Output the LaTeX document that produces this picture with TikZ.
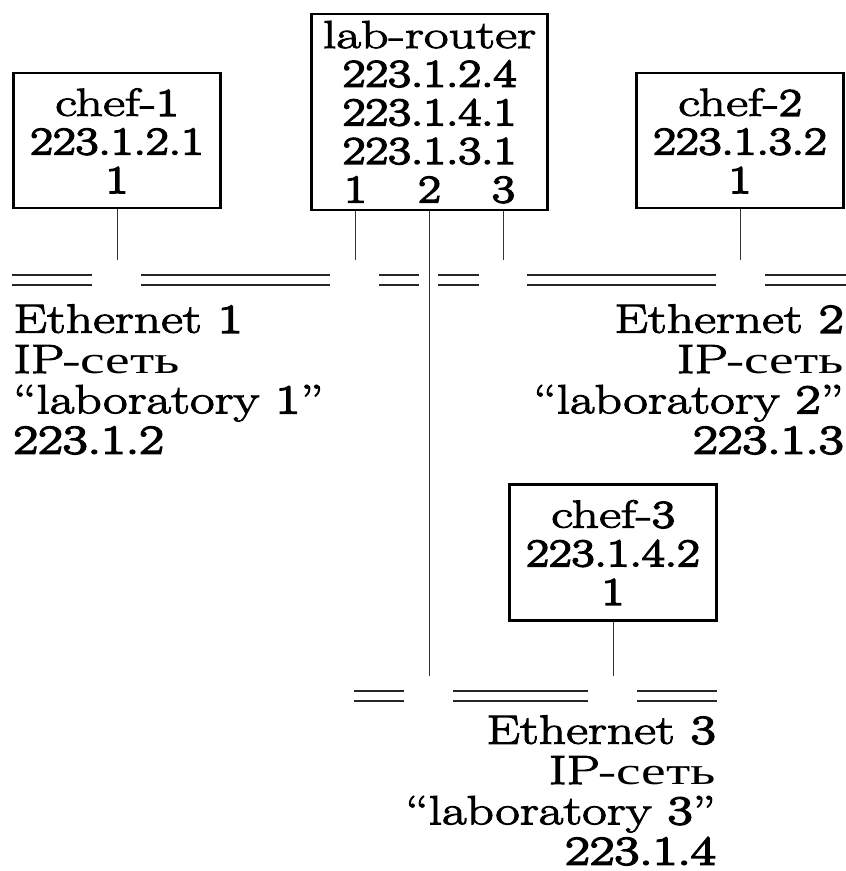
\documentclass[tikz,border=0pt]{standalone}
\usepackage{fontspec}
\setmainfont{Latin Modern Roman}[FakeStretch=1.25]
\newfontfamily\boxf{Latin Modern Roman}[FakeStretch=1.38, FakeBold=2.6]
\newfontfamily\boxd{Latin Modern Roman}[FakeStretch=1.27, FakeBold=4.2]
\newfontfamily\labf{Latin Modern Roman}[FakeStretch=1.31, FakeBold=2.6]
\newfontfamily\labd{Latin Modern Roman}[FakeStretch=1.32, FakeBold=4.2]
\newfontfamily\cyr{Liberation Serif}[FakeStretch=1.43, Scale=0.95]
\newcommand\ipnet{IP-{\cyr сеть}}
\newcommand\bd[1]{{\boxd #1}}
\newcommand\ld[1]{{\labd #1}}
\tikzset{
  boxnode/.style={draw, line width=1.3pt, align=center, inner sep=0pt,
    font=\boxf\fontsize{19.5}{19.3}\selectfont},
  netlabel/.style={inner sep=0pt, font=\labf\fontsize{20.4}{20.15}\selectfont},
  tap/.style={line width=0.5pt, draw=black!80},
  bus/.style={draw=black!85, line width=0.75pt, double=white, double distance=4.25pt},
}
\begin{document}
\begin{tikzpicture}[x=0.5pt,y=-0.5pt]
\useasboundingbox (0,0) rectangle (845,871);

% hosts and router
\node[boxnode, minimum width=103.5pt, minimum height=67.5pt] (chef1) at (117,140.7)
  {chef-\bd{1}\\\bd{223.1.2.1}\\\bd{1}};
\node[boxnode, minimum width=118pt, minimum height=98pt] (router) at (429.5,112)
  {lab-router\\\bd{223.1.2.4}\\\bd{223.1.4.1}\\\bd{223.1.3.1}\\
   \makebox[37pt]{\bd{1}}\makebox[37pt]{\bd{2}}\makebox[37pt]{\bd{3}}};
\node[boxnode, minimum width=103.5pt, minimum height=67.5pt] (chef2) at (740,140.7)
  {chef-\bd{2}\\\bd{223.1.3.2}\\\bd{1}};
\node[boxnode, minimum width=103.5pt, minimum height=68pt] (chef3) at (613,552.5)
  {chef-\bd{3}\\\bd{223.1.4.2}\\\bd{1}};

% tap points
\coordinate (t1) at (117,260);
\coordinate (t2) at (355,260);
\coordinate (t3) at (429,676);
\coordinate (t4) at (503,260);
\coordinate (t5) at (740,260);
\coordinate (t6) at (613,676);

\draw[tap] (chef1.south) -- (t1);
\draw[tap] (router.south -| t2) -- (t2);
\draw[tap] (router.south -| t3) -- (t3);
\draw[tap] (router.south -| t4) -- (t4);
\draw[tap] (chef2.south) -- (t5);
\draw[tap] (chef3.south) -- (t6);

% Ethernet 1 and 2 buses
\draw[bus] (12,280) -- (92,280);
\draw[bus] (141,280) -- (330,280);
\draw[bus] (379,280) -- (419,280);
\draw[bus] (438,280) -- (479,280);
\draw[bus] (527,280) -- (716,280);
\draw[bus] (765,280) -- (850,280);
% Ethernet 3 bus
\draw[bus] (354,696) -- (404,696);
\draw[bus] (453,696) -- (588,696);
\draw[bus] (637,696) -- (717,696);

% network labels
\node[netlabel, anchor=north west, align=left] (lab1) at (13,304)
  {Ethernet \ld{1}\\\ipnet\\“laboratory \ld{1}”\\\ld{223.1.2}};
\node[netlabel, anchor=north east, align=right] (lab2) at (844,304)
  {Ethernet \ld{2}\\\ipnet\\“laboratory \ld{2}”\\\ld{223.1.3}};
\node[netlabel, anchor=north east, align=right] (lab3) at (716,715)
  {Ethernet \ld{3}\\\ipnet\\“laboratory \ld{3}”\\\ld{223.1.4}};
\end{tikzpicture}
\end{document}
